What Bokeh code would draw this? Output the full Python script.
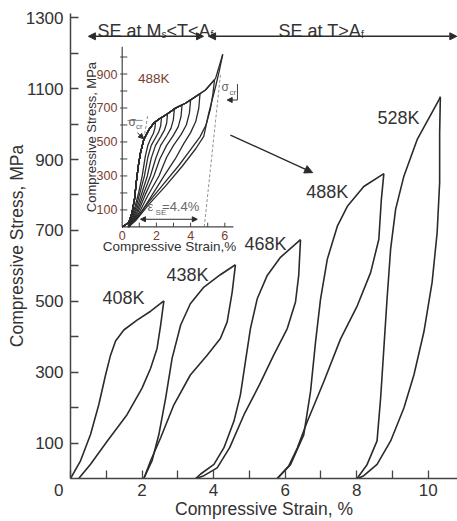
from math import pi
from bokeh.plotting import figure
from bokeh.models import Range1d, Label, Arrow, NormalHead, FixedTicker
from bokeh.core.properties import value
from bokeh.embed import file_html
from bokeh.resources import INLINE

FONT = "Liberation Sans"
INK = "#2b2b2b"
TXT = "#333333"
BROWN = "#7a3e2e"
GRAY = "#666666"

# ---------------- main chart data (strain %, stress MPa) ----------------
temps = ["408K", "438K", "468K", "488K", "528K"]

load_408_x = [0, 0.28, 0.56, 0.79, 0.98, 1.12, 1.26, 1.49, 1.86, 2.24, 2.61]
load_408_y = [0, 50, 124, 208, 292, 348, 388, 419, 447, 472, 501]
unload_408_x = [2.61, 2.52, 2.42, 2.24, 2.00, 1.58, 1.03, 0.56, 0.23]
unload_408_y = [501, 433, 367, 311, 255, 180, 106, 40, 0]

load_438_x = [2.05, 2.28, 2.47, 2.66, 2.84, 3.08, 3.35, 3.73, 4.19, 4.61]
load_438_y = [0, 50, 124, 227, 339, 433, 493, 540, 575, 603]
unload_438_x = [4.61, 4.52, 4.38, 4.19, 3.82, 3.35, 2.89, 2.52, 2.24, 2.05]
unload_438_y = [603, 526, 442, 395, 348, 292, 208, 115, 50, 0]

load_468_x = [3.50, 3.63, 4.01, 4.29, 4.57, 4.75, 4.89, 5.03, 5.22, 5.50, 5.87, 6.43]
load_468_y = [0, 12, 40, 87, 162, 236, 330, 423, 507, 573, 624, 674]
unload_468_x = [6.43, 6.38, 6.29, 6.06, 5.68, 5.28, 4.85, 4.45, 4.10, 3.73, 3.50]
unload_468_y = [674, 573, 498, 423, 348, 264, 180, 87, 30, 8, 0]

load_488_x = [5.78, 6.15, 6.52, 6.71, 6.85, 6.99, 7.18, 7.46, 7.74, 8.20, 8.76]
load_488_y = [0, 39, 123, 245, 385, 506, 619, 712, 768, 824, 860]
unload_488_x = [8.76, 8.69, 8.62, 8.39, 8.02, 7.55, 7.08, 6.62, 6.34, 6.10, 5.78]
unload_488_y = [860, 787, 675, 581, 488, 394, 273, 161, 86, 35, 0]

load_528_x = [8.01, 8.29, 8.57, 8.67, 8.76, 8.85, 8.95, 9.09, 9.32, 9.69, 10.30, 10.34]
load_528_y = [0, 39, 106, 227, 367, 507, 648, 760, 853, 956, 1068, 1077]
unload_528_x = [10.34, 10.32, 10.32, 10.25, 10.11, 9.88, 9.60, 9.32, 8.95, 8.57, 8.20, 8.03]
unload_528_y = [1077, 974, 835, 694, 554, 414, 292, 199, 106, 40, 8, 0]

loads = [(load_408_x, load_408_y), (load_438_x, load_438_y), (load_468_x, load_468_y),
         (load_488_x, load_488_y), (load_528_x, load_528_y)]
unloads = [(unload_408_x, unload_408_y), (unload_438_x, unload_438_y), (unload_468_x, unload_468_y),
           (unload_488_x, unload_488_y), (unload_528_x, unload_528_y)]

x_major = [0, 2, 4, 6, 8, 10]
x_minor = [1, 3, 5, 7, 9]
y_major = [100, 300, 500, 700, 900, 1100, 1300]
y_minor = [200, 400, 600, 800, 1000, 1200]

# ---------------- inset data (488K, nested loops) ----------------
env_x = [0, 0.39, 0.58, 0.72, 0.82, 0.94, 1.07, 1.26, 1.56, 1.85, 2.14, 2.63, 3.12, 3.70, 4.29, 4.87, 5.46, 5.88]
env_y = [0, 26, 85, 163, 260, 357, 436, 513, 572, 611, 634, 665, 699, 728, 767, 806, 874, 1016]

peak_x = [1.95, 2.30, 2.65, 3.05, 3.50, 4.00, 4.55, 5.40, 5.88]
peak_y = [618, 644, 666, 694, 718, 748, 784, 866, 1016]

inset_unload_x = [
    [1.95, 1.91, 1.82, 1.67, 1.50, 1.35, 1.17, 0.97, 0.70, 0.34],
    [2.30, 2.25, 2.14, 1.95, 1.70, 1.50, 1.30, 1.05, 0.75, 0.36],
    [2.65, 2.60, 2.47, 2.25, 1.95, 1.70, 1.47, 1.15, 0.80, 0.38],
    [3.05, 2.99, 2.85, 2.60, 2.25, 1.95, 1.65, 1.25, 0.85, 0.40],
    [3.50, 3.44, 3.28, 3.00, 2.60, 2.20, 1.85, 1.35, 0.90, 0.40],
    [4.00, 3.93, 3.75, 3.45, 3.00, 2.60, 2.15, 1.50, 0.95, 0.40],
    [4.55, 4.48, 4.30, 4.00, 3.60, 3.10, 2.45, 1.70, 1.00, 0.40],
    [5.40, 5.30, 5.15, 4.90, 4.55, 4.00, 3.30, 2.40, 1.50, 0.80, 0.35],
    [5.88, 5.68, 5.46, 5.06, 4.77, 4.30, 3.51, 2.53, 1.56, 0.78, 0.35],
]
inset_unload_y = [
    [618, 580, 550, 520, 480, 415, 300, 205, 100, 0],
    [644, 595, 560, 525, 480, 410, 300, 205, 95, 0],
    [666, 610, 570, 530, 480, 405, 300, 200, 90, 0],
    [694, 630, 580, 535, 480, 400, 300, 195, 85, 0],
    [718, 650, 590, 540, 480, 400, 300, 190, 80, 0],
    [748, 670, 600, 545, 480, 410, 300, 185, 75, 0],
    [784, 700, 620, 555, 490, 400, 300, 180, 70, 0],
    [866, 780, 690, 600, 530, 455, 360, 250, 140, 45, 0],
    [1016, 920, 825, 670, 533, 460, 357, 240, 133, 36, 0],
]

inset_x_ticks = [1, 2, 3, 4, 5, 6]
inset_x_labels = [0, 2, 4, 6]
inset_y_ticks = [100, 200, 300, 400, 500, 600, 700, 800, 900, 1000]
inset_y_labels = [100, 300, 500, 700, 900]

# ---------------- figure ----------------
p = figure(width=457, height=521, x_range=Range1d(0, 10.819), y_range=Range1d(0, 1312),
           output_backend="svg", toolbar_location=None,
           min_border_left=70, min_border_right=0, min_border_top=13, min_border_bottom=40)
p.outline_line_color = None
p.grid.visible = False
p.background_fill_color = "white"
p.border_fill_color = "white"

for ax in (p.xaxis[0], p.yaxis[0]):
    ax.axis_line_color = "#444444"
    ax.axis_line_width = 1.5
    ax.major_tick_line_color = "#444444"
    ax.minor_tick_line_color = "#444444"
    ax.major_tick_line_width = 1.3
    ax.minor_tick_line_width = 1.3
    ax.major_tick_in = 8
    ax.major_tick_out = 0
    ax.minor_tick_in = 8
    ax.minor_tick_out = 0
    ax.major_label_text_font = FONT
    ax.major_label_text_font_size = "17px"
    ax.major_label_text_color = TXT
    ax.axis_label_text_font = FONT
    ax.axis_label_text_font_size = "17.5px"
    ax.axis_label_text_font_style = "normal"
    ax.axis_label_text_color = TXT

NB = "\u00a0"
p.xaxis.ticker = FixedTicker(ticks=x_major, minor_ticks=x_minor)
p.xaxis.major_label_overrides = {0: "0" + NB * 5}
p.xaxis.major_label_standoff = 2
p.xaxis.axis_label = "Compressive Strain, %"
p.xaxis.axis_label_standoff = -4
p.yaxis.ticker = FixedTicker(ticks=y_major, minor_ticks=y_minor)
p.yaxis.major_label_standoff = 7
p.yaxis.axis_label = "Compressive Stress, MPa"
p.yaxis.axis_label_standoff = -4

for (lx, ly), (ux, uy) in zip(loads, unloads):
    p.line(lx, ly, line_color=INK, line_width=1.6, line_join="round")
    p.line(ux, uy, line_color=INK, line_width=1.6, line_join="round")

lab_x = [1.48, 3.27, 5.45, 7.18, 9.17]
lab_y = [510, 575, 662, 807, 1018]
p.text(x=lab_x, y=lab_y, text=temps, text_font=value(FONT), text_font_size="18px",
       text_color=TXT, text_align="center", text_baseline="middle")

def lab(x, y, t, size, color=TXT, align="left", baseline="alphabetic", angle=0):
    p.add_layout(Label(x=x, y=y, text=t, text_font=FONT, text_font_size=size, text_color=color,
                       text_align=align, text_baseline=baseline, angle=angle))

# top range annotations
lab(0.755, 1263, "SE at M", "18px")
lab(2.544, 1253, "s", "10px")
lab(2.684, 1263, "<T<A", "18px")
lab(3.914, 1253, "f", "10px")
lab(5.815, 1263, "SE at T>A", "18px")
lab(8.121, 1253, "f", "10px")

def arrow(x0, y0, x1, y1, both=True, size=7, color=INK, width=1.4, xr="default", yr="default"):
    head = lambda: NormalHead(size=size, fill_color=color, line_color=color)
    p.add_layout(Arrow(start=head() if both else None, end=head(), x_start=x0, y_start=y0,
                       x_end=x1, y_end=y1, line_color=color, line_width=width,
                       x_range_name=xr, y_range_name=yr))

arrow(0.50, 1247.6, 3.72, 1247.6)
arrow(3.86, 1247.6, 10.80, 1247.6)
arrow(4.47, 969, 6.77, 863, both=False, size=8)

# ---------------- inset (own scales on the same frame) ----------------
p.extra_x_ranges = {"ix": Range1d(-3.0234, 19.608)}
p.extra_y_ranges = {"iy": Range1d(-1480.7, 1256.1)}
I = dict(x_range_name="ix", y_range_name="iy")

p.line([0, 6.5], [0, 0], line_color="#444444", line_width=1.2, **I)
p.line([0, 0], [0, 1060], line_color="#444444", line_width=1.2, **I)
p.segment(x0=inset_x_ticks, y0=[0] * len(inset_x_ticks), x1=inset_x_ticks, y1=[25] * len(inset_x_ticks),
          line_color="#444444", line_width=1, **I)
p.segment(x0=[-0.12] * len(inset_y_ticks), y0=inset_y_ticks, x1=[0.3] * len(inset_y_ticks), y1=inset_y_ticks,
          line_color="#444444", line_width=1, **I)
p.text(x=[-0.28] * len(inset_y_labels), y=inset_y_labels, text=[str(v) for v in inset_y_labels],
       text_font=value(FONT), text_font_size="12.5px", text_color=BROWN,
       text_align="right", text_baseline="middle", **I)
p.text(x=inset_x_labels, y=[-50] * len(inset_x_labels), text=[str(v) for v in inset_x_labels],
       text_font=value(FONT), text_font_size="12.5px", text_color=BROWN,
       text_align="center", text_baseline="middle", **I)

# dashed guide lines
p.line([4.8, 5.75], [0, 900], line_color="#777777", line_width=0.8, line_dash="3 2", **I)
p.line([1.22, 1.5], [490, 660], line_color="#777777", line_width=0.8, line_dash="3 2", **I)

for px_, py_, ux, uy in zip(peak_x, peak_y, inset_unload_x, inset_unload_y):
    lx = [x for x in env_x if x < px_] + [px_]
    ly = [y for x, y in zip(env_x, env_y) if x < px_] + [py_]
    p.line(lx, ly, line_color=INK, line_width=1.3, line_join="round", **I)
    p.line(ux, uy, line_color=INK, line_width=1.3, line_join="round", **I)

p.text(x=[-1.8], y=[529], text=["Compressive Stress, MPa"], angle=pi / 2, text_font=value(FONT),
       text_font_size="13px", text_color=TXT, text_align="center", text_baseline="middle", **I)
p.text(x=[2.77], y=[-118], text=["Compressive Strain,%"], text_font=value(FONT),
       text_font_size="13.5px", text_color=TXT, text_align="center", text_baseline="middle", **I)
p.text(x=[1.84], y=[874], text=["488K"], text_font=value(FONT), text_font_size="13.5px",
       text_color=BROWN, text_align="center", text_baseline="middle", **I)

# sigma_cr markers
p.text(x=[0.37], y=[578], text=["σ"], text_font=value(FONT), text_font_size="12px", text_color=GRAY, **I)
p.text(x=[0.81], y=[563], text=["cr"], text_font=value(FONT), text_font_size="8px", text_color=GRAY, **I)
p.segment(x0=[0.31], y0=[627], x1=[1.19], y1=[627], line_color=GRAY, line_width=0.8, **I)
arrow(0.89, 554, 1.25, 519, both=False, size=5, color=INK, width=1, xr="ix", yr="iy")

p.text(x=[5.81], y=[782], text=["σ"], text_font=value(FONT), text_font_size="12px", text_color=GRAY, **I)
p.text(x=[6.27], y=[765], text=["cr"], text_font=value(FONT), text_font_size="8px", text_color=GRAY, **I)
p.segment(x0=[6.74], y0=[747], x1=[6.74], y1=[841], line_color=INK, line_width=0.9, **I)
arrow(6.74, 747, 6.14, 747, both=False, size=5, color=INK, width=1, xr="ix", yr="iy")

# epsilon_SE annotation
p.text(x=[1.48], y=[75], text=["ε"], text_font=value(FONT), text_font_size="13px", text_color=GRAY, **I)
p.text(x=[1.95], y=[57], text=["SE"], text_font=value(FONT), text_font_size="8px", text_color=GRAY, **I)
p.text(x=[2.33], y=[75], text=["=4.4%"], text_font=value(FONT), text_font_size="13px", text_color=GRAY, **I)
arrow(1.07, 45, 4.39, 45, size=5, color=INK, width=1, xr="ix", yr="iy")

open("out.html", "w").write(file_html(p, INLINE))
